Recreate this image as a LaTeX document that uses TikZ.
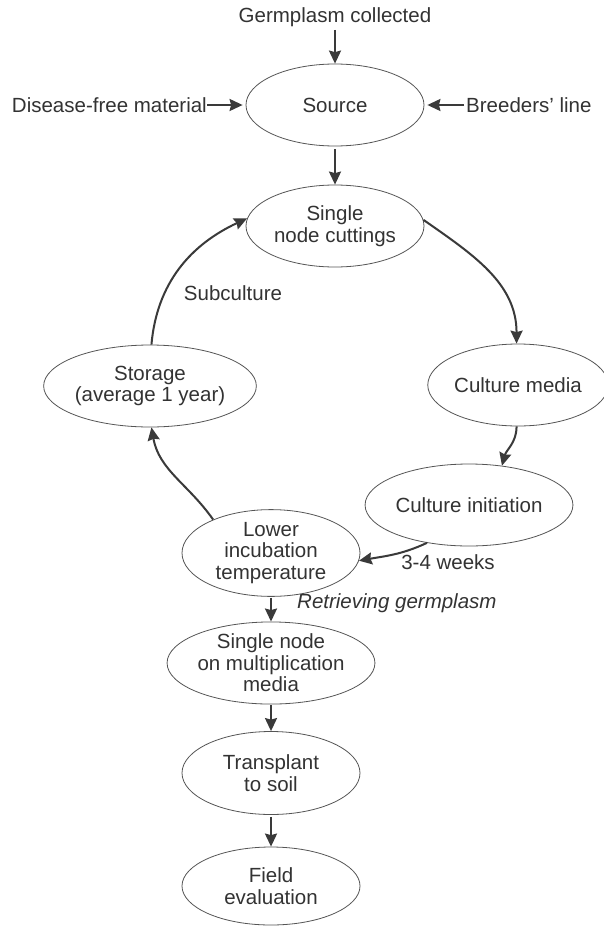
\documentclass[tikz,border=0pt]{standalone}
\usepackage{fontspec}
\setmainfont{Liberation Sans}
\usetikzlibrary{shapes.geometric,arrows.meta}
\definecolor{txt}{HTML}{333333}
\definecolor{edge}{HTML}{555555}
\definecolor{arrc}{HTML}{3A3A3A}
\newcommand\dfont{\fontsize{20.5}{21.5}\selectfont}
\begin{document}
\begin{tikzpicture}[x=1pt,y=1pt,
 every node/.style={font=\dfont, text=txt},
 oval/.style={ellipse, draw=edge, line width=0.8pt, inner sep=0pt, minimum width=178pt, minimum height=82pt, align=center},
 arr/.style={draw=arrc, line width=2pt, -{Stealth[length=13pt,width=12pt,inset=1.5pt]}},
 lbl/.style={inner sep=0pt}]
\fill[white] (0,0) rectangle (603,-926);
\useasboundingbox (0,0) rectangle (603,-926);
% nodes
\node[lbl] (germ) at (335,-17) {Germplasm collected};
\node[oval] (source) at (335,-105) {Source};
\node[lbl, anchor=east] (dis) at (207,-105) {Disease-free material};
\node[lbl, anchor=west] (bre) at (466,-105) {Breeders' line};
\node[oval] (snc) at (335,-226) {Single\\node cuttings};
\node[oval, minimum width=175pt] (stor) at (150,-386) {Storage\\(average 1 year)};
\node[oval, minimum width=168pt] (cm) at (518,-385) {Culture media};
\node[oval] (ci) at (469,-505) {Culture initiation};
\node[oval, minimum height=83pt] (low) at (271,-553) {Lower\\incubation\\temperature};
\node[oval] (mult) at (271,-663) {Single node\\on multiplication\\media};
\node[oval, minimum height=83pt] (trans) at (271,-773) {Transplant\\to soil};
\node[oval, minimum height=78pt] (field) at (271,-886) {Field\\evaluation};
% labels
\node[lbl] (sub) at (233,-293) {Subculture};
\node[lbl] (wk) at (448,-562) {3-4 weeks};
\node[lbl, anchor=west, font=\dfont\itshape] (ret) at (297,-603) {Retrieving germplasm};
% straight arrows
\draw[arr, shorten <=3pt] (germ.south) -- (source.north);
\draw[arr, shorten >=3pt] (dis.east) -- (source.west);
\draw[arr, shorten <=2pt, shorten >=3pt] (bre.west) -- (source.east);
\draw[arr, shorten <=3pt] (source.south) -- (snc.north);
\draw[arr, shorten <=1pt] (low.south) -- (mult.north);
\draw[arr, shorten <=1pt] (mult.south) -- (trans.north);
\draw[arr, shorten <=2pt] (trans.south) -- (field.north);
% cycle
\draw[arr] (stor.88) to[out=85,in=205] (snc.175);
\draw[arr] (snc.4) to[out=-35,in=90] (cm.92);
\draw[arr] (cm.268) to[out=-90,in=75] (ci.50);
\draw[arr] (ci.222) to[out=205,in=10] (low.355);
\draw[arr] (low.150) to[out=125,in=-80] (stor.272);
\end{tikzpicture}
\end{document}
